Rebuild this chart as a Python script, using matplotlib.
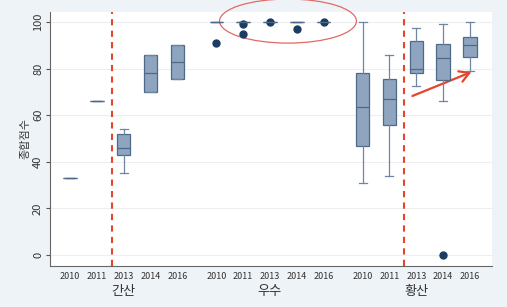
import numpy as np, matplotlib
matplotlib.use('Agg')
import matplotlib.pyplot as plt
from matplotlib.patches import Ellipse, FancyArrowPatch

plt.rcParams['font.family'] = ['Noto Sans CJK KR', 'DejaVu Sans']

years = ['2010', '2011', '2013', '2014', '2016']
groups = ['간산', '우수', '황산']

# box stats per group, one entry per year
med = {'간산': [33, 66, 46, 78, 83],
       '우수': [100, 100, 100, 100, 100],
       '황산': [63.5, 67, 80, 84.5, 90]}
q1 = {'간산': [33, 66, 43, 70, 75.5],
      '우수': [100, 100, 100, 100, 100],
      '황산': [47, 56, 78, 75, 85]}
q3 = {'간산': [33, 66, 52, 86, 90],
      '우수': [100, 100, 100, 100, 100],
      '황산': [78, 75.5, 92, 90.5, 93.5]}
lo = {'간산': [33, 66, 35, 70, 75.5],
      '우수': [100, 100, 100, 100, 100],
      '황산': [31, 34, 72.5, 66, 79]}
hi = {'간산': [33, 66, 54, 86, 90],
      '우수': [100, 100, 100, 100, 100],
      '황산': [100, 86, 97.5, 99, 100]}
fliers = {'간산': [[], [], [], [], []],
          '우수': [[91], [99, 95], [100], [97], [100]],
          '황산': [[], [], [], [0], []]}

BOX = '#8fa5bf'; EDGE = '#4f6a88'; WHISK = '#6f86a2'; DOT = '#1b3d63'; RED = '#e5452a'
gap = 5.45

fig = plt.figure(figsize=(5.07, 3.07), dpi=100)
fig.patch.set_facecolor('#eef3f7')
ax = fig.add_axes([0.0986, 0.1336, 0.8718, 0.8274])
ax.set_facecolor('white')

stats = []; pos = []
for g, name in enumerate(groups):
    for i in range(len(years)):
        stats.append(dict(med=med[name][i], q1=q1[name][i], q3=q3[name][i],
                          whislo=lo[name][i], whishi=hi[name][i], fliers=fliers[name][i]))
        pos.append(g * gap + i)

ax.bxp(stats, positions=pos, widths=0.5, patch_artist=True, capwidths=0.3,
       boxprops=dict(facecolor=BOX, edgecolor=EDGE, lw=0.9),
       medianprops=dict(color=EDGE, lw=0.9),
       whiskerprops=dict(color=WHISK, lw=0.9), capprops=dict(color=WHISK, lw=0.9),
       flierprops=dict(marker='o', markerfacecolor=DOT, markeredgecolor=DOT, markersize=5),
       manage_ticks=False)

for g in [0, 2]:
    ax.axvline(g * gap + 1.55, color=RED, ls=(0, (3, 2.5)), lw=1.5)

ax.add_patch(Ellipse((8.12, 100.4), 5.1, 18.9, fill=False, edgecolor='#e06a66', lw=0.9, clip_on=False))
ax.add_patch(FancyArrowPatch((12.66, 67.8), (15.05, 79), arrowstyle='->,head_length=7,head_width=4',
                             color=RED, lw=1.6, mutation_scale=1))

ax.set_xlim(-0.745, 15.72)
ax.set_ylim(-4.7, 104.3)
ax.set_yticks([0, 20, 40, 60, 80, 100])
ax.set_yticklabels(['0', '20', '40', '60', '80', '100'], rotation=90, va='center', fontsize=8, color='#333')
ax.grid(axis='y', color='#eeeeee', lw=0.8)
ax.set_axisbelow(True)
ax.set_xticks(pos)
ax.set_xticklabels(years * 3, fontsize=6.5, color='#333')
ax.tick_params(axis='x', length=0, pad=4)
ax.tick_params(axis='y', length=3, color='#555', pad=2)
for s in ['top', 'right']:
    ax.spines[s].set_visible(False)
for s in ['left', 'bottom']:
    ax.spines[s].set_color('#666')
ax.set_ylabel('종합점수', fontsize=8, color='#333', labelpad=2)
for g, name in enumerate(groups):
    ax.text(g * gap + 2, -15.5, name, ha='center', va='center', fontsize=9.5, color='#333')

fig.savefig('out.png', dpi=100, facecolor=fig.get_facecolor())
